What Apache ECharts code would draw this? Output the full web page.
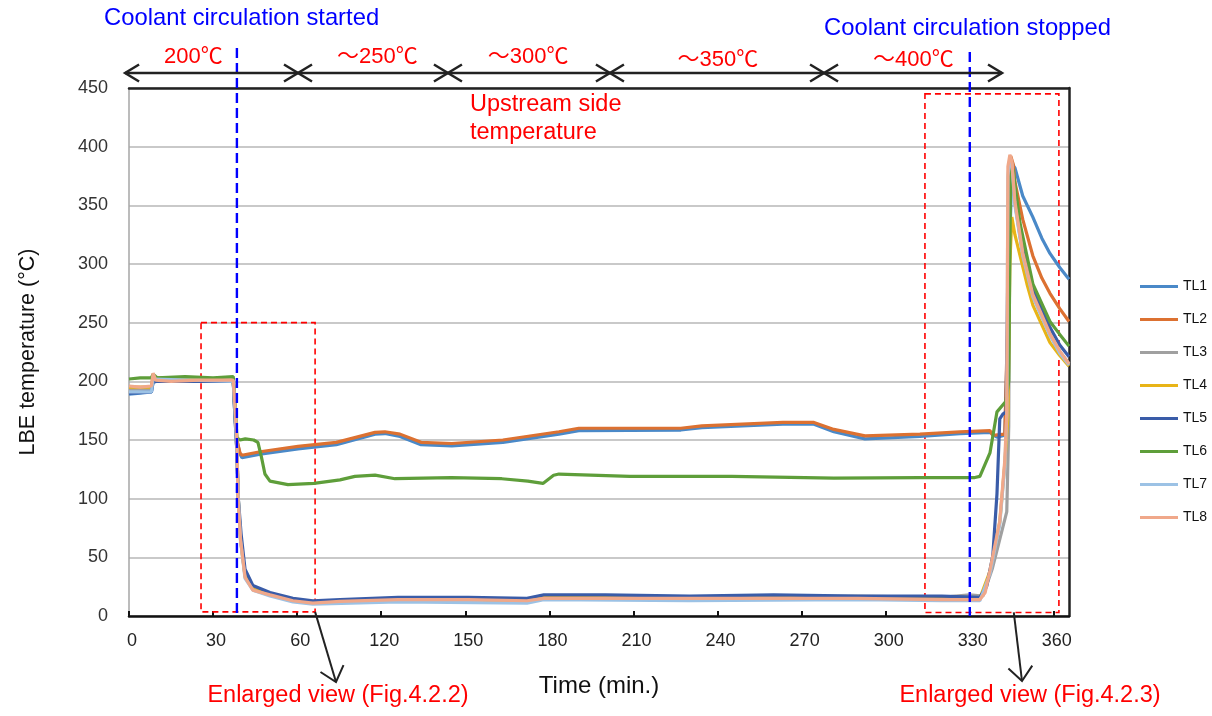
<!DOCTYPE html>
<html>
<head>
<meta charset="utf-8">
<script src="https://cdn.jsdelivr.net/npm/echarts@6/dist/echarts.min.js"></script>
<style>html,body{margin:0;padding:0;background:#fff}#c{width:1212px;height:716px}</style>
</head>
<body>
<div id="c"></div>
<script>
// x values are positions on the time axis (one tick = 30 units, labelled by xTickLabels)
const xTickLabels = ['0','30','60','120','150','180','210','240','270','300','330','360'];
const seriesNames = ['TL1','TL2','TL3','TL4','TL5','TL6','TL7','TL8'];
const seriesColors = ['#4A89C8','#DC7131','#A0A0A0','#E8B417','#3A5CA8','#5E9E3A','#9CC2E5','#F0A88A'];

const tl1 = [[0,189],[4,190],[8,191],[8.6,199],[10,200],[20,200],[37.2,200],[37.8,170],[38.5,150],[39.6,138],[40.3,135],[46.8,138],[60.3,142.5],[74,146],[87.8,155],[91.3,155.5],[96.7,153],[104.2,146],[115.2,145],[133.4,148],[153.4,155],[160.5,158],[196.9,158.5],[204.4,160.5],[233.3,163.5],[244.4,163.5],[251.5,157],[262.6,151],[282.2,153],[296.5,155.5],[307.2,156.5],[309.7,152.5],[312.5,154],[313.6,250],[315,386],[316.1,382],[318.9,358],[322.5,340],[325.7,322],[328.6,309],[332.1,297],[335.4,287]];
const tl2 = [[0,194],[4,194],[8,195],[8.6,205],[10,201],[20,201],[37.2,201],[37.8,175],[38.5,150],[39.6,139],[40.3,137],[46.8,140],[60.3,144.5],[74,148],[87.8,156.5],[91.3,157],[96.7,155],[104.2,148],[115.2,147],[133.4,150],[153.4,157],[160.5,160],[196.9,160],[204.4,162],[233.3,165],[244.4,165],[251.5,159],[262.6,153.5],[282.2,155],[296.5,157],[307.2,158],[308.2,154],[312.5,155],[313.6,260],[314.6,392],[315.5,385],[316.1,370],[318.9,338],[322.5,307],[325.7,288],[328.6,275],[332.1,262],[335.4,251]];
const tl3 = [[0,193],[8,193],[8.6,203],[37.2,201],[37.8,170],[38.5,140],[39,100],[39.8,66],[41.4,35],[44.2,24],[50.3,19],[58.5,14],[65.6,12],[96,15],[142,14],[148,17],[200,16],[260,17],[290,16],[300,18],[304.7,17],[308,40],[313.2,89],[313.9,162],[314.3,380],[315,385],[316.1,352],[318.9,308],[322.5,273],[328.6,240],[332.1,225],[335.4,215]];
const tl4 = [[0,195],[8,195],[8.6,203],[37.2,200],[37.8,175],[38.5,140],[39,100],[39.8,65],[41.4,34],[44.2,23],[50.3,18],[58.5,13],[65.6,11],[96,14],[142,13],[148,16],[200,15],[260,16],[290,15],[303.6,15],[307.2,38],[310.7,80],[312.5,130],[313.6,170],[314.3,300],[315,340],[316.1,325],[320.4,283],[322.5,265],[328.6,233],[332.1,222],[335.4,213]];
const tl5 = [[0,190],[8,191],[8.6,200],[10,200],[37.2,200],[37.8,170],[38.5,140],[39,100],[40,70],[41.4,40],[44.2,26],[50.3,20],[58.5,15],[65.6,13],[75.3,14],[96,16],[121,16],[142,15],[148,18],[170,18],[200,17],[230,18],[260,17],[290,17],[303.6,16],[306,25],[308.2,51],[309.7,104],[310.7,168],[311.8,172],[313,174],[313.6,300],[314.3,385],[315,380],[316.1,355],[318.9,313],[322.5,278],[328.6,246],[332.1,231],[335.4,221]];
const tl6 = [[0,202],[4,203],[8,203],[8.6,206],[10,203],[20,204],[30,203],[37.2,204],[37.8,185],[38.5,152],[39.6,150],[41.5,151],[44.5,150],[46,148],[47.3,135],[48.5,121],[50.3,115],[56.7,112],[66,113],[75.3,116],[80.6,119],[87.8,120],[94.9,117],[115,118],[133,117],[142.3,115],[147.7,113],[151.5,120],[153.4,121],[178.7,119],[215.1,119],[251.5,117.5],[282.2,118],[301.8,118],[303.6,119],[307.2,139],[309.7,174],[312.9,183],[313.9,200],[314.6,385],[315.5,380],[316.1,368],[317.9,335],[322.5,283],[328.6,251],[332.1,240],[335.4,230]];
const tl7 = [[0,191],[8,191],[8.6,202],[37.2,200],[37.8,175],[38.5,140],[39,100],[39.8,64],[41.4,32],[44.2,22],[50.3,17],[58.5,12],[65.6,10],[96,12],[142,11],[148,14],[200,13],[260,14],[290,13],[303.6,13],[307.2,36],[310.7,78],[312.5,128],[313.2,170],[313.6,375],[314.3,390],[315,386],[316.1,350],[318.9,307],[322.5,272],[328.6,239],[332.1,224],[335.4,214]];
const tl8 = [[0,196],[4,195],[8,196],[8.6,207],[9.5,201],[15,200],[25,201],[33,201],[37.2,201],[37.8,180],[38.5,150],[38.9,100],[39.8,65],[41.4,33],[44.2,22],[50.3,18],[58.5,13],[65.6,11],[75.3,12.5],[96,14],[121,14],[142,13],[148,15],[170,15],[200,15],[230,15],[260,15],[290,14],[303.6,14],[305.5,20],[307.2,39],[310.7,81],[312.5,133],[313.2,174],[313.6,383],[314.3,393],[315,388],[316.1,353],[318.9,309.5],[322.5,274],[328.6,240.6],[332.1,226],[335.4,215]];

// annotations
const coolantEvents = [38.5, 300];
const coolantTexts = ['Coolant circulation started', 'Coolant circulation stopped'];
const rangeBounds = [-1.4, 60.3, 113.8, 171.6, 248, 311.5];
const rangeLabels = ['200℃', '～250℃', '～300℃', '～350℃', '～400℃'];
const rangeLabelPos = [23, 88.6, 142.4, 210.1, 279.9];
const enlargedBoxes = [[25.7, 250, 66.4, 3.5], [284, 445, 331.8, 3]];
const enlargedTexts = ['Enlarged view (Fig.4.2.2)', 'Enlarged view (Fig.4.2.3)'];
const enlargedArrowStart = [66.4, 315.7];

const allData = [tl1, tl2, tl3, tl4, tl5, tl6, tl7, tl8];
const FONT = '"Liberation Sans", Arial, "Noto Sans CJK JP", sans-serif';

const chart = echarts.init(document.getElementById('c'), null, {renderer: 'canvas'});
const series = allData.map((d, i) => ({
  name: seriesNames[i], type: 'line', data: d, showSymbol: false, symbol: 'none',
  color: seriesColors[i], lineStyle: {width: 3.2, color: seriesColors[i]}, z: 2 + i,
  animation: false
}));
series[0].markArea = {
  silent: true,
  itemStyle: {color: 'rgba(0,0,0,0)', borderColor: '#FF0000', borderWidth: 1.6, borderType: [6, 4]},
  data: enlargedBoxes.map(b => [{coord: [b[0], b[1]]}, {coord: [b[2], b[3]]}])
};

chart.setOption({
  animation: false,
  textStyle: {fontFamily: FONT},
  grid: {left: 129, right: 143, top: 88, bottom: 100},
  legend: {
    orient: 'vertical', left: 1135, top: 274.5, icon: 'rect', itemWidth: 38, itemHeight: 3,
    itemGap: 19, data: seriesNames,
    textStyle: {fontSize: 14, lineHeight: 14, color: '#111', fontFamily: FONT}
  },
  xAxis: [{
    type: 'value', min: 0, max: 335.4, interval: 30,
    name: 'Time (min.)', nameLocation: 'middle', nameGap: 58,
    nameTextStyle: {fontSize: 24, color: '#111', fontFamily: FONT},
    axisLine: {onZero: false, lineStyle: {color: '#111', width: 2.5}},
    axisTick: {inside: true, length: 5, lineStyle: {color: '#111', width: 2}},
    axisLabel: {fontSize: 18, color: '#222', margin: 16, showMaxLabel: false, padding: [0, 0, 0, 6],
      formatter: v => { const k = v / 30; return Math.abs(k - Math.round(k)) < 1e-6 ? (xTickLabels[Math.round(k)] || '') : ''; }},
    splitLine: {show: false}
  }, {
    type: 'value', position: 'top', min: 0, max: 335.4,
    axisLine: {show: true, onZero: false, lineStyle: {color: '#222', width: 2.5}},
    axisTick: {show: false}, axisLabel: {show: false}, splitLine: {show: false}
  }],
  yAxis: [{
    type: 'value', min: 0, max: 450, interval: 50,
    name: 'LBE temperature (°C)', nameLocation: 'middle', nameGap: 90, nameRotate: 90,
    nameTextStyle: {fontSize: 21.5, color: '#111', fontFamily: FONT},
    axisLine: {show: true, onZero: false, lineStyle: {color: '#A6A6A6', width: 1.5}},
    axisTick: {show: false},
    axisLabel: {fontSize: 18, color: '#333', margin: 21},
    splitLine: {lineStyle: {color: '#C9C9C9', width: 2}}
  }, {
    type: 'value', position: 'right', min: 0, max: 450,
    axisLine: {show: true, onZero: false, lineStyle: {color: '#222', width: 2.5}},
    axisTick: {show: false}, axisLabel: {show: false}, splitLine: {show: false}
  }],
  series: series
});

function px(u) { return chart.convertToPixel({xAxisIndex: 0}, u); }
function py(v) { return chart.convertToPixel({yAxisIndex: 0}, v); }

const g = [];
// blue dashed lines + titles
coolantEvents.forEach((u, i) => {
  const x = px(u);
  g.push({type: 'line', shape: {x1: x, y1: 48 + i * 4, x2: x, y2: py(0)}, z: 100,
    style: {stroke: '#0000FF', lineWidth: 2.4, lineDash: [10, 5]}});
});
g.push({type: 'text', x: 104, y: 18, z: 100, style: {text: coolantTexts[0], fill: '#0000FF', font: '23.8px ' + FONT, textVerticalAlign: 'middle', textAlign: 'left'}});
g.push({type: 'text', x: 824, y: 28, z: 100, style: {text: coolantTexts[1], fill: '#0000FF', font: '23.8px ' + FONT, textVerticalAlign: 'middle', textAlign: 'left'}});

// range arrows
const ay = 73, ah = 14, aw = 8.5;
for (let i = 0; i < rangeBounds.length - 1; i++) {
  const a = px(rangeBounds[i]), b = px(rangeBounds[i + 1]);
  g.push({type: 'line', shape: {x1: a, y1: ay, x2: b, y2: ay}, z: 100, style: {stroke: '#222', lineWidth: 2.5}});
  g.push({type: 'polyline', shape: {points: [[a + ah, ay - aw], [a, ay], [a + ah, ay + aw]]}, z: 100, style: {stroke: '#222', lineWidth: 2.5, fill: null}});
  g.push({type: 'polyline', shape: {points: [[b - ah, ay - aw], [b, ay], [b - ah, ay + aw]]}, z: 100, style: {stroke: '#222', lineWidth: 2.5, fill: null}});
  g.push({type: 'text', x: px(rangeLabelPos[i]), y: i < 3 ? 57 : 60, z: 100,
    style: {text: rangeLabels[i], fill: '#FF0000', font: '22px ' + FONT, textAlign: 'center', textVerticalAlign: 'middle'}});
}

// upstream text
g.push({type: 'text', x: 470, y: 105, z: 100, style: {text: 'Upstream side', fill: '#FF0000', font: '23.5px ' + FONT, textVerticalAlign: 'middle'}});
g.push({type: 'text', x: 470, y: 133, z: 100, style: {text: 'temperature', fill: '#FF0000', font: '23.5px ' + FONT, textVerticalAlign: 'middle'}});

// enlarged view arrows
const arrowEnds = [[336, 682], [1022, 681]];
const textCenters = [338, 1030];
enlargedArrowStart.forEach((u, i) => {
  const x1 = px(u), y1 = py(enlargedBoxes[i][3]);
  const [x2, y2] = arrowEnds[i];
  const dx = x2 - x1, dy = y2 - y1, L = Math.hypot(dx, dy);
  const ux = dx / L, uy = dy / L, nx = -uy, ny = ux;
  g.push({type: 'line', shape: {x1, y1, x2, y2}, z: 100, style: {stroke: '#222', lineWidth: 2}});
  g.push({type: 'polyline', z: 100, shape: {points: [[x2 - ux * 14 + nx * 12, y2 - uy * 14 + ny * 12], [x2, y2], [x2 - ux * 14 - nx * 12, y2 - uy * 14 - ny * 12]]},
    style: {stroke: '#222', lineWidth: 2, fill: null}});
  g.push({type: 'text', x: textCenters[i], y: 696, z: 100, style: {text: enlargedTexts[i], fill: '#FF0000', font: '23.5px ' + FONT, textAlign: 'center', textVerticalAlign: 'middle'}});
});

chart.setOption({graphic: g});
</script>
</body>
</html>
